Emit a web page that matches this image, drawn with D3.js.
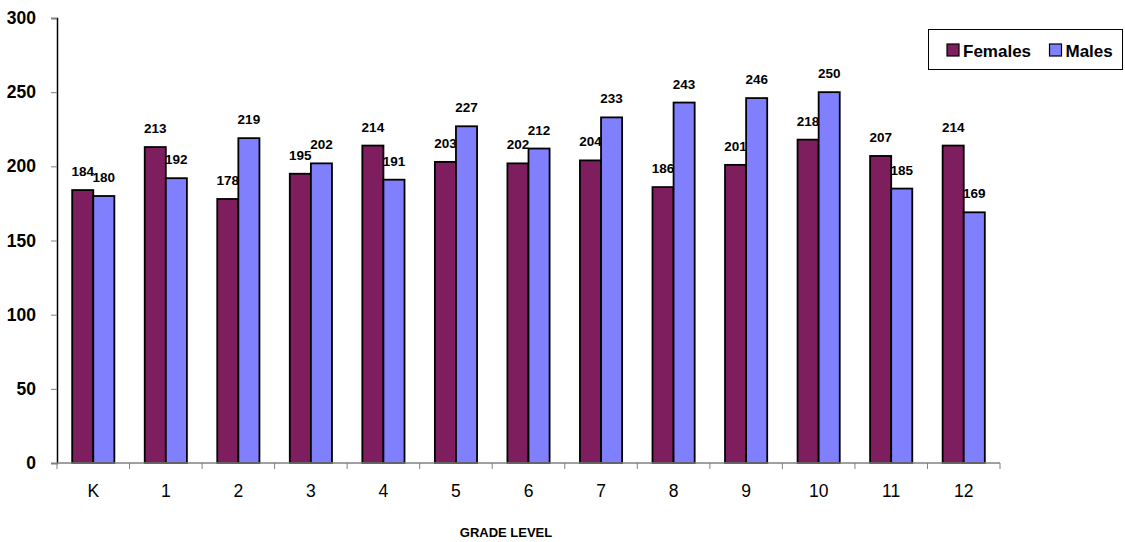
<!DOCTYPE html>
<html><head><meta charset="utf-8">
<script src="https://cdn.jsdelivr.net/npm/d3@7/dist/d3.min.js"></script>
<style>
body{margin:0;background:#fff;}
text{font-family:"Liberation Sans",Arial,sans-serif;}
</style></head>
<body><svg id="c" width="1125" height="542"></svg>
<script>
const categories = ["K","1","2","3","4","5","6","7","8","9","10","11","12"];
const females = [184,213,178,195,214,203,202,204,186,201,218,207,214];
const males   = [180,192,219,202,191,227,212,233,243,246,250,185,169];
const seriesNames = ["Females","Males"];
const colors = ["#7E1E5E","#8080FF"];
const yTicks = [0,50,100,150,200,250,300];

const svg = d3.select("#c");
const mLeft = 57, mRight = 1000, mTop = 18, mBottom = 463;
const x0 = d3.scaleBand().domain(categories).range([mLeft,mRight]).padding(0);
const x1 = d3.scaleBand().domain(seriesNames).range([0,x0.bandwidth()]).paddingInner(0).paddingOuter(0.72);
const y = d3.scaleLinear().domain([0,300]).range([mBottom,mTop]);

const data = categories.map((c,i)=>({cat:c, vals:[{s:"Females",v:females[i]},{s:"Males",v:males[i]}]}));

// y axis
const yAxis = d3.axisLeft(y).tickValues(yTicks).tickSize(6).tickPadding(4);
const gy = svg.append("g").attr("transform",`translate(${mLeft},0)`).call(yAxis);
gy.select(".domain").attr("stroke","#000").attr("stroke-width",1.5);
gy.selectAll(".tick line").attr("stroke","#808080");
gy.selectAll(".tick text").attr("font-size",17.5).attr("font-weight","bold").attr("fill","#000")
  .attr("font-family","'Liberation Sans',Arial,sans-serif").attr("x",-21);

// labels (drawn behind bars)
const gl = svg.append("g");
data.forEach(d=>{
  d.vals.forEach(v=>{
    gl.append("text")
      .attr("x", x0(d.cat)+x1(v.s)+x1.bandwidth()/2)
      .attr("y", y(v.v)-14)
      .attr("text-anchor","middle")
      .attr("font-size",13.5).attr("font-weight","bold")
      .text(v.v);
  });
});

// bars
const gb = svg.append("g");
data.forEach(d=>{
  d.vals.forEach((v,j)=>{
    gb.append("rect")
      .attr("x", x0(d.cat)+x1(v.s))
      .attr("y", y(v.v))
      .attr("width", x1.bandwidth())
      .attr("height", y(0)-y(v.v))
      .attr("fill", colors[j])
      .attr("stroke","#000").attr("stroke-width",1.8);
  });
});

// x axis
const gx = svg.append("g").attr("transform",`translate(0,${mBottom})`);
gx.append("line").attr("x1",mLeft).attr("x2",mRight).attr("stroke","#808080").attr("stroke-width",1.5);
const bounds = categories.map(c=>x0(c)).concat([mRight]);
gx.selectAll(".tk").data(bounds).join("line").attr("x1",d=>d).attr("x2",d=>d)
  .attr("y1",0).attr("y2",6).attr("stroke","#808080");
gx.selectAll(".lab").data(categories).join("text")
  .attr("x",d=>x0(d)+x0.bandwidth()/2).attr("y",34)
  .attr("text-anchor","middle").attr("font-size",17.5).text(d=>d);

svg.append("text").attr("x",506).attr("y",537).attr("text-anchor","middle")
  .attr("font-size",13).attr("font-weight","bold").text("GRADE LEVEL");

// legend
const lg = svg.append("g");
lg.append("rect").attr("x",928.5).attr("y",29.5).attr("width",194).attr("height",40)
  .attr("fill","#fff").attr("stroke","#000").attr("stroke-width",1);
const lx = [947, 1049.5];
seriesNames.forEach((s,i)=>{
  lg.append("rect").attr("x",lx[i]).attr("y",44).attr("width",12).attr("height",12)
    .attr("fill",colors[i]).attr("stroke","#000").attr("stroke-width",1.2);
  lg.append("text").attr("x",lx[i]+16).attr("y",56.5).attr("font-size",17)
    .attr("font-weight","bold").text(s);
});
</script></body></html>
